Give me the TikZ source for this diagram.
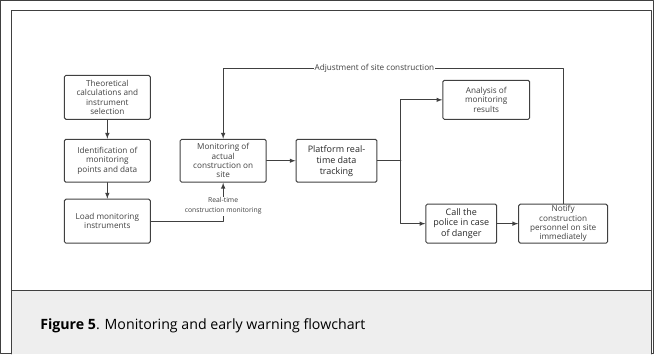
\documentclass[tikz,border=0pt]{standalone}
\usepackage{fontspec}
\setmainfont{Open Sans}
\usepackage{xcolor}
\usepackage{tikz}
\usetikzlibrary{shapes,arrows}
\usetikzlibrary{calc}
\usetikzlibrary{positioning}
\usetikzlibrary{backgrounds}
\definecolor{linegray}{HTML}{404040}
\definecolor{capgray}{HTML}{EEEEEE}
\tikzstyle{every node}=[font=\fontsize{8.2}{9.3}\selectfont,text=linegray]
\tikzstyle{every path}=[line width=1pt,line cap=round,line join=round,draw=linegray]
\tikzstyle{stepbox}=[draw=linegray,rounded corners=1.5pt,align=center,inner sep=1pt]
\tikzstyle{keybox}=[stepbox,text=black!85,font=\fontsize{9}{11}\selectfont]
\tikzstyle{flowlabel}=[fill=white,align=center,inner sep=1pt]

\begin{document}
\begin{tikzpicture}[x=1pt,y=-1pt]
\useasboundingbox (0,0) rectangle (654,354);
\fill [capgray] (11,290) rectangle (652,354);
\draw (11,354) -- (11,10) -- (652,10) -- (652,354);
\draw (11,290) -- (652,290);
\node [anchor=west,text=black,font=\fontsize{14.2}{16}\selectfont] (caption) at (36,326) {\textbf{Figure 5}. Monitoring and early warning flowchart};
% left column
\node [stepbox,minimum width=86,minimum height=44] (theo) at (107,97) {Theoretical\\calculations and\\instrument\\selection};
\node [stepbox,minimum width=86,minimum height=43] (ident) at (107,160.5) {Identification of\\monitoring\\points and data};
\node [stepbox,minimum width=86,minimum height=44] (load) at (107,221) {Load monitoring\\instruments};
\draw [-latex](theo) -- (ident);
\draw [-latex](ident) -- (load);
% middle
\node [stepbox,minimum width=86,minimum height=43] (mon) at (223,160.5) {Monitoring of\\actual\\construction on\\site};
\node [keybox,minimum width=81,minimum height=43] (plat) at (336.5,160.5) {Platform real-\\time data\\tracking};
\draw [-latex](load.east) -| (mon.south);
\node [flowlabel,font=\fontsize{6.8}{10}\selectfont] (rtlabel) at (223,206) {Real-time\\construction monitoring};
\draw [-latex](mon) -- (plat);
% right side
\node [stepbox,minimum width=87,minimum height=39] (anal) at (486.5,99.5) {Analysis of\\monitoring\\results};
\node [keybox,minimum width=71,minimum height=39] (call) at (461.5,223.5) {Call the\\police in case\\of danger};
\node [stepbox,minimum width=89,minimum height=39] (noti) at (563.5,223.5) {Notify\\construction\\personnel on site\\immediately};
\coordinate (split) at (401,160.5);
\draw (plat.east) -- (split);
\draw [-latex](split) |- (anal.west);
\draw [-latex](split) |- (call.west);
\draw [-latex](call) -- (noti);
% feedback
\coordinate (fbcorner) at (223,68);
\draw [-latex](noti.north) |- (fbcorner) -- (mon.north);
\node [flowlabel] (adjlabel) at (374.5,68) {Adjustment of site construction};
\end{tikzpicture}
\end{document}
